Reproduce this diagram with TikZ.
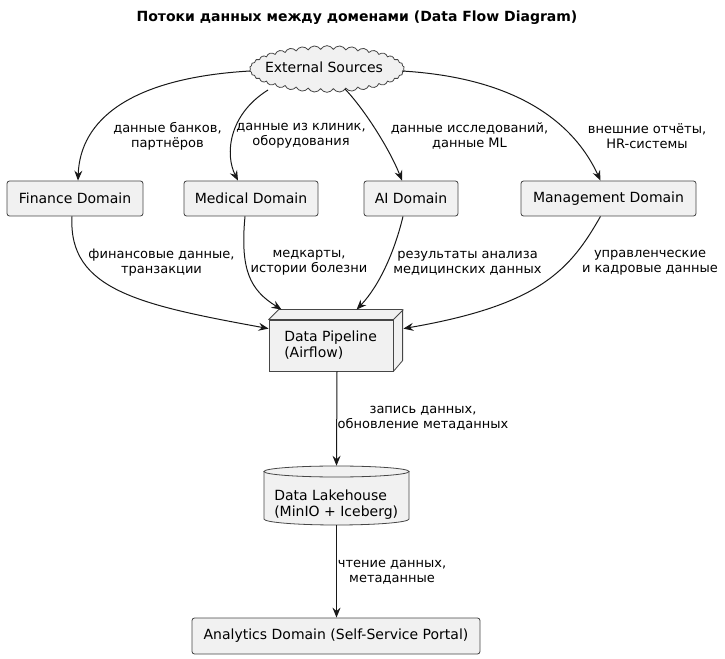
\documentclass[tikz,border=0pt]{standalone}
\usepackage{fontspec}
\setmainfont{DejaVu Sans}
\usetikzlibrary{shapes.symbols,arrows.meta,calc}
\definecolor{nodefill}{HTML}{F1F1F1}
\definecolor{edgecol}{HTML}{181818}
\tikzset{
  box/.style={draw=edgecol!80, fill=nodefill, line width=0.6pt, rounded corners=1.9pt,
    minimum height=26.25pt, inner sep=0pt, font=\fontsize{10.5}{12}\selectfont},
  lbl/.style={align=center, inner sep=0pt, font=\fontsize{9.75}{11.25}\selectfont},
  flow/.style={draw=edgecol, line width=0.75pt, -{Stealth[length=7.5pt,width=6pt,inset=2.6pt]}},
}
\begin{document}
\begin{tikzpicture}[x=0.75pt,y=-0.75pt]
\useasboundingbox (0,0) rectangle (725,659);
\node[font=\bfseries\fontsize{10.5}{12}\selectfont] (title) at (357,18) {Потоки данных между доменами (Data Flow Diagram)};
% cloud
\node[cloud, cloud puffs=38, cloud puff arc=120, aspect=3.2, draw=edgecol!80, fill=nodefill,
  line width=0.6pt, minimum width=116pt, minimum height=35pt, inner sep=0pt] (ext) at (327,69) {};
\node[inner sep=0pt, font=\fontsize{10.5}{12}\selectfont] (exttxt) at (324,67) {External Sources};
% domains
\node[box, minimum width=102pt] (fin) at (75,198.5) {Finance Domain};
\node[box, minimum width=100.5pt] (med) at (251,198.5) {Medical Domain};
\node[box, minimum width=70.5pt] (ai) at (411,198.5) {AI Domain};
\node[box, minimum width=131.25pt] (mgmt) at (608.5,198.5) {Management Domain};
\node[box, minimum width=216pt, minimum height=27pt] (ana) at (336,636) {Analytics Domain (Self-Service Portal)};
% pipeline (3D box)
\node[draw=edgecol!80, fill=nodefill, line width=0.6pt, minimum width=93pt, minimum height=38.25pt,
  inner sep=0pt, font=\fontsize{10.5}{12}\selectfont] (pipe) at (331,345.5) {};
\draw[draw=edgecol!80, fill=nodefill, line width=0.6pt, line join=round]
  (pipe.north west) -- ++(10,-10) -- ++(124,0) -- ++(0,51) -- (pipe.south east) -- (pipe.north east) -- cycle
  (pipe.north east) -- ++(10,-10);
\node[anchor=west, align=left, inner sep=0pt, font=\fontsize{10.5}{12}\selectfont] (pipetxt) at (284,345) {Data Pipeline\\(Airflow)};
% lakehouse (cylinder)
\node[minimum width=108.75pt, minimum height=44.25pt, inner sep=0pt] (lake) at (336.5,495.5) {};
\draw[draw=edgecol!80, fill=nodefill, line width=0.6pt]
  (264,471.5) -- (264,519) arc[start angle=180, end angle=0, x radius=72.5, y radius=6]
  -- (409,471.5) -- cycle;
\draw[draw=edgecol!80, fill=nodefill, line width=0.6pt]
  (336.5,471.5) ellipse[x radius=72.5, y radius=5.5];
\node[anchor=west, align=left, inner sep=0pt, font=\fontsize{10.5}{12}\selectfont] (laketxt) at (274,504.5) {Data Lakehouse\\(MinIO + Iceberg)};
% edges from external sources
\draw[flow] ($(ext.center)+(-77,2)$) .. controls (130,78) and (80,120) .. ($(fin.north)+(3,0)$);
\draw[flow] ($(ext.center)+(-59,21)$) .. controls (228,115) and (225,155) .. ($(med.north)+(-13,0)$);
\draw[flow] ($(ext.center)+(18,20)$) .. controls (365,110) and (390,150) .. ($(ai.north)+(-9,0)$);
\draw[flow] ($(ext.center)+(75,2)$) .. controls (520,78) and (575,125) .. ($(mgmt.north)+(-8,0)$);
\node[lbl] (l1) at (167.5,136) {данные банков,\\партнёров};
\node[lbl] (l2) at (301,136) {данные из клиник,\\оборудования};
\node[lbl] (l3) at (469.5,136) {данные исследований,\\данные ML};
\node[lbl] (l4) at (647,136) {внешние отчёты,\\HR-системы};
% edges to pipeline
\draw[flow] ($(fin.south)+(-3,0)$) .. controls (68,290) and (140,305) .. ($(pipe.north west)+(0,9)$);
\draw[flow] ($(med.south)+(-6,0)$) .. controls (240,270) and (250,290) .. ($(pipe.north west)+(13,-10)$);
\draw[flow] ($(ai.south)+(-8,0)$) .. controls (395,250) and (380,285) .. ($(pipe.north west)+(88,-10)$);
\draw[flow] ($(mgmt.south)+(-8,0)$) .. controls (570,270) and (540,305) .. ($(pipe.north east)+(10,9)$);
\node[lbl] (l5) at (161.5,263) {финансовые данные,\\транзакции};
\node[lbl] (l6) at (309,263) {медкарты,\\истории болезни};
\node[lbl] (l7) at (467.5,263) {результаты анализа\\медицинских данных};
\node[lbl] (l8) at (650,263) {управленческие\\и кадровые данные};
% vertical edges
\draw[flow] ($(pipe.south)+(6,0)$) -- (lake.north);
\node[lbl] (l9) at (423,418) {запись данных,\\обновление метаданных};
\draw[flow] (lake.south) -- (ana.north -| lake.south);
\node[lbl] (l10) at (392,572) {чтение данных,\\метаданные};
\end{tikzpicture}
\end{document}
